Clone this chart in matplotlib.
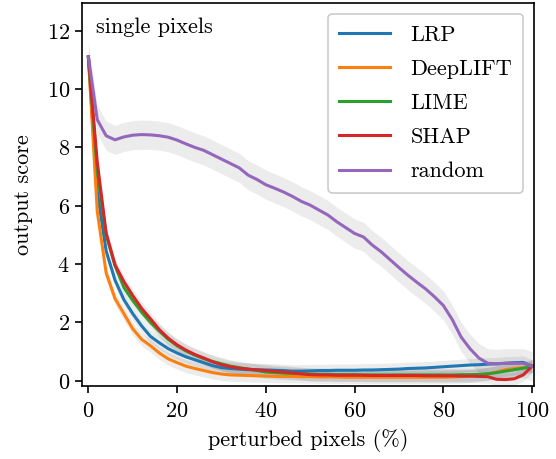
import numpy as np
import matplotlib
matplotlib.use("Agg")
import matplotlib.pyplot as plt

plt.rcParams['font.family'] = ['cmr10', 'DejaVu Serif']
plt.rcParams['axes.formatter.use_mathtext'] = True
plt.rcParams['mathtext.fontset'] = 'cm'

x = np.arange(0, 101, 2)

lrp = [11.1, 6.5, 4.45, 3.45, 2.78, 2.3, 1.88, 1.52, 1.3, 1.1, 0.95, 0.82, 0.72, 0.62, 0.52,
       0.45, 0.42, 0.40, 0.38, 0.38, 0.37, 0.36, 0.35, 0.33, 0.33, 0.34, 0.35, 0.35, 0.36,
       0.36, 0.36, 0.37, 0.37, 0.38, 0.39, 0.40, 0.42, 0.43, 0.44, 0.46, 0.48, 0.50, 0.52,
       0.54, 0.55, 0.57, 0.58, 0.60, 0.62, 0.63, 0.50]
deeplift = [11.1, 5.8, 3.7, 2.82, 2.3, 1.78, 1.42, 1.2, 0.95, 0.75, 0.62, 0.50, 0.42, 0.35,
            0.28, 0.23, 0.20, 0.19, 0.18, 0.17, 0.16, 0.15, 0.15, 0.15, 0.14, 0.14, 0.13,
            0.13, 0.13, 0.12, 0.12, 0.12, 0.12, 0.12, 0.12, 0.12, 0.12, 0.12, 0.12, 0.12,
            0.12, 0.13, 0.14, 0.16, 0.20, 0.24, 0.30, 0.38, 0.42, 0.45, 0.50]
lime = [11.1, 7.2, 5.0, 3.95, 3.2, 2.75, 2.35, 2.0, 1.7, 1.42, 1.2, 1.02, 0.88, 0.76, 0.66,
        0.58, 0.50, 0.45, 0.40, 0.35, 0.30, 0.28, 0.26, 0.25, 0.24, 0.23, 0.22, 0.22, 0.21,
        0.21, 0.21, 0.20, 0.20, 0.20, 0.20, 0.20, 0.20, 0.20, 0.20, 0.20, 0.20, 0.20, 0.21,
        0.21, 0.22, 0.24, 0.28, 0.33, 0.38, 0.43, 0.50]
shap = [11.1, 7.5, 5.06, 3.97, 3.4, 2.92, 2.48, 2.12, 1.75, 1.46, 1.23, 1.05, 0.90, 0.78,
        0.65, 0.55, 0.48, 0.43, 0.40, 0.37, 0.35, 0.32, 0.30, 0.27, 0.24, 0.21, 0.20, 0.20,
        0.19, 0.19, 0.19, 0.19, 0.18, 0.18, 0.18, 0.18, 0.18, 0.18, 0.17, 0.17, 0.17, 0.17,
        0.16, 0.16, 0.15, 0.14, 0.05, 0.04, 0.07, 0.20, 0.50]
random_ = [11.1, 8.95, 8.40, 8.26, 8.36, 8.42, 8.44, 8.43, 8.40, 8.35, 8.25, 8.12, 8.0, 7.9,
           7.75, 7.6, 7.45, 7.3, 7.05, 6.9, 6.72, 6.6, 6.47, 6.32, 6.15, 6.02, 5.85, 5.68,
           5.45, 5.25, 5.05, 4.93, 4.65, 4.42, 4.15, 3.88, 3.62, 3.38, 3.15, 2.88, 2.58, 2.1,
           1.5, 1.1, 0.78, 0.60, 0.58, 0.60, 0.60, 0.60, 0.50]

labels = ["LRP", "DeepLIFT", "LIME", "SHAP", "random"]
series = [lrp, deeplift, lime, shap, random_]
errs = [0.22, 0.22, 0.22, 0.22, 0.5]
colors = ["#1f77b4", "#ff7f0e", "#2ca02c", "#d62728", "#9467bd"]

FS = 16

fig = plt.figure(figsize=(5.56, 4.59), dpi=100)
ax = fig.add_axes([0.147, 0.159, 0.814, 0.835])

for vals, e in zip(series, errs):
    v = np.array(vals)
    ax.fill_between(x, v - e, v + e, color='k', alpha=0.075, linewidth=0)
for vals, lab, c in zip(series, labels, colors):
    ax.plot(x, vals, color=c, lw=2.2, label=lab)

ax.set_xlim(-1.5, 100.5)
ax.set_ylim(-0.18, 12.96)
ax.set_xticks([0, 20, 40, 60, 80, 100])
ax.set_yticks([0, 2, 4, 6, 8, 10, 12])
ax.tick_params(labelsize=FS, length=5, width=1.2, direction='out')
ax.tick_params(axis='x', pad=6)
for s in ax.spines.values():
    s.set_linewidth(1.2)
ax.set_xlabel("perturbed pixels (%)", fontsize=FS, labelpad=6)
ax.set_ylabel("output score", fontsize=FS, labelpad=10)
ax.text(0.032, 0.962, "single pixels", transform=ax.transAxes, ha='left', va='top', fontsize=FS)

leg = ax.legend(loc='upper right', fontsize=FS, handlelength=2.3, labelspacing=0.66,
                fancybox=True, framealpha=1.0, borderpad=0.5, handletextpad=0.9)
leg.get_frame().set_edgecolor('#cccccc')
leg.get_frame().set_linewidth(1.2)

fig.savefig("out.png", dpi=100)
